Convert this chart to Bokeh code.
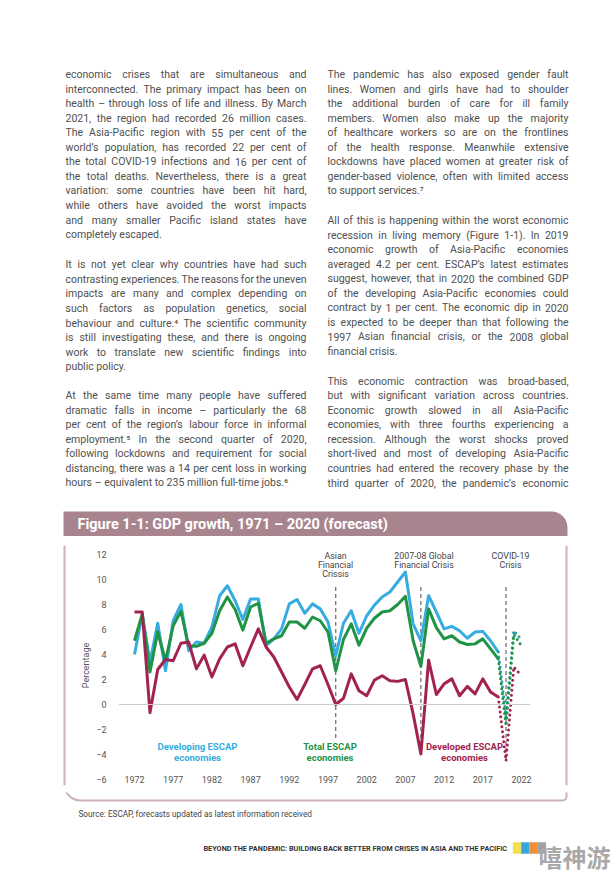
from bokeh.plotting import figure
from bokeh.layouts import column, row
from bokeh.models import Range1d, Label, BoxAnnotation, Span, FixedTicker, ColumnDataSource
from bokeh.core.properties import value
from bokeh.embed import file_html
from bokeh.resources import INLINE

# ---------------- data ----------------
years = list(range(1972, 2020))
developing = [4.0, 7.2, 3.4, 6.5, 2.7, 6.7, 8.0, 4.3, 5.0, 4.9,
              6.2, 8.7, 9.5, 8.3, 6.8, 8.45, 8.45, 4.7, 5.25, 6.05,
              8.05, 8.4, 7.3, 8.05, 7.65, 6.6, 3.9, 6.5, 7.5, 5.7,
              7.1, 7.95, 8.6, 9.0, 9.8, 10.6, 6.45, 5.1, 8.7, 7.4,
              6.05, 6.25, 5.9, 5.3, 5.8, 5.85, 5.1, 4.2]
total = [5.1, 7.25, 2.6, 5.8, 3.5, 6.3, 7.45, 4.7, 4.65, 4.9,
         5.7, 7.5, 8.6, 7.6, 5.95, 7.8, 8.1, 4.9, 5.25, 5.5,
         6.6, 6.6, 6.1, 7.0, 6.7, 5.8, 2.7, 5.2, 6.45, 4.75,
         6.1, 6.9, 7.4, 7.5, 8.0, 8.65, 5.1, 3.05, 7.65, 6.15,
         5.25, 5.5, 5.0, 4.8, 4.85, 5.25, 4.45, 3.65]
developed = [7.4, 7.4, -0.65, 2.8, 3.6, 3.5, 4.9, 5.0, 2.85, 3.95,
             2.2, 3.65, 4.6, 4.85, 3.1, 4.6, 6.05, 4.6, 3.8, 2.6,
             1.4, 0.4, 1.6, 2.85, 3.1, 1.6, 0.0, 0.5, 2.45, 1.1,
             0.7, 1.95, 2.3, 1.9, 1.85, 2.0, -0.75, -3.95, 3.55, 0.8,
             1.65, 2.05, 0.7, 1.45, 0.85, 2.05, 1.0, 0.6]

fc_years = [2019, 2020, 2021, 2022]
developing_fc = [4.2, -1.0, 5.9, 5.2]
total_fc = [3.65, -1.7, 5.6, 4.7]
developed_fc = [0.6, -4.5, 3.0, 2.3]

crisis_years = [1998, 2009, 2020]
crisis_top = [9.4, 9.4, 9.4]
crisis_bottom = [-2.9, -4.0, -4.6]
crisis_labels = [["Asian", "Financial", "Crissis"],
                 ["2007-08 Global", "Financial Crisis"],
                 ["COVID-19", "Crisis"]]

x_ticks = [1972, 1977, 1982, 1987, 1992, 1997, 2002, 2007, 2012, 2017, 2022]
y_ticks = [-6, -4, -2, 0, 2, 4, 6, 8, 10, 12]

series_names = [["Developing ESCAP", "economies"],
                ["Total ESCAP", "economies"],
                ["Developed ESCAP", "economies"]]

title_text = "Figure 1-1: GDP growth, 1971 \u2013 2020 (forecast)"
source_text = "Source: ESCAP, forecasts updated as latest information received"
footer_text = "BEYOND THE PANDEMIC: BUILDING BACK BETTER FROM CRISES IN ASIA AND THE PACIFIC"
watermark = "嘻神游"

left_paragraphs = [
    ["economic crises that are simultaneous and",
     "interconnected. The primary impact has been on",
     "health \u2013 through loss of life and illness. By March",
     "2021, the region had recorded 26 million cases.",
     "The Asia-Pacific region with 55 per cent of the",
     "world\u2019s population, has recorded 22 per cent of",
     "the total COVID-19 infections and 16 per cent of",
     "the total deaths. Nevertheless, there is a great",
     "variation: some countries have been hit hard,",
     "while others have avoided the worst impacts",
     "and many smaller Pacific island states have",
     "completely escaped."],
    ["It is not yet clear why countries have had such",
     "contrasting experiences. The reasons for the uneven",
     "impacts are many and complex depending on",
     "such factors as population genetics, social",
     "behaviour and culture.\u2074 The scientific community",
     "is still investigating these, and there is ongoing",
     "work to translate new scientific findings into",
     "public policy."],
    ["At the same time many people have suffered",
     "dramatic falls in income \u2013 particularly the 68",
     "per cent of the region\u2019s labour force in informal",
     "employment.\u2075 In the second quarter of 2020,",
     "following lockdowns and requirement for social",
     "distancing, there was a 14 per cent loss in working",
     "hours \u2013 equivalent to 235 million full-time jobs.\u2076"],
]
right_paragraphs = [
    ["The pandemic has also exposed gender fault",
     "lines. Women and girls have had to shoulder",
     "the additional burden of care for ill family",
     "members. Women also make up the majority",
     "of healthcare workers so are on the frontlines",
     "of the health response. Meanwhile extensive",
     "lockdowns have placed women at greater risk of",
     "gender-based violence, often with limited access",
     "to support services.\u2077"],
    ["All of this is happening within the worst economic",
     "recession in living memory (Figure 1-1). In 2019",
     "economic growth of Asia-Pacific economies",
     "averaged 4.2 per cent. ESCAP\u2019s latest estimates",
     "suggest, however, that in 2020 the combined GDP",
     "of the developing Asia-Pacific economies could",
     "contract by 1 per cent. The economic dip in 2020",
     "is expected to be deeper than that following the",
     "1997 Asian financial crisis, or the 2008 global",
     "financial crisis."],
    ["This economic contraction was broad-based,",
     "but with significant variation across countries.",
     "Economic growth slowed in all Asia-Pacific",
     "economies, with three fourths experiencing a",
     "recession. Although the worst shocks proved",
     "short-lived and most of developing Asia-Pacific",
     "countries had entered the recovery phase by the",
     "third quarter of 2020, the pandemic\u2019s economic"],
]

# ---------------- geometry (page pixels) ----------------
PW = 614
TOP_H = 536
MID_Y0, MID_H = 536, 256
BOT_Y0 = MID_Y0 + MID_H
BOT_H = 873 - BOT_Y0
LEFT_W, RIGHT_X0 = 70, 545
BOX_L, BOX_R, BOX_T, BOX_B = 64, 566, 511, 800

BORDER = "#cdb0b8"
BAR = "#a8858e"
BLUE = "#36ace0"
GREEN = "#1f9444"
RED = "#a3234f"
TEAL = "#27a1a6"
GREY_TXT = "#555555"


def panel(x0, y0, w, h):
    f = figure(width=w, height=h, output_backend="svg", toolbar_location=None, title=None,
               x_range=Range1d(x0, x0 + w), y_range=Range1d(y0 + h, y0),
               min_border=0, x_axis_location=None, y_axis_location=None)
    f.outline_line_color = None
    f.grid.visible = False
    f.background_fill_color = "white"
    f.border_fill_color = "white"
    return f


def rbox(**kw):
    radius = kw.pop("radius", None)
    try:
        return BoxAnnotation(border_radius=radius, **kw)
    except Exception:
        return BoxAnnotation(**kw)


# approximate Roboto advance widths (em) used to justify the body text
ADV = {' ': 0.248, 'a': 0.544, 'b': 0.561, 'c': 0.523, 'd': 0.564, 'e': 0.530, 'f': 0.347,
       'g': 0.561, 'h': 0.551, 'i': 0.243, 'j': 0.239, 'k': 0.507, 'l': 0.243, 'm': 0.876,
       'n': 0.552, 'o': 0.570, 'p': 0.561, 'q': 0.568, 'r': 0.338, 's': 0.516, 't': 0.327,
       'u': 0.551, 'v': 0.484, 'w': 0.751, 'x': 0.496, 'y': 0.473, 'z': 0.496,
       '.': 0.257, ',': 0.192, ':': 0.236, '-': 0.270, '\u2013': 0.6, '\u2019': 0.195,
       '(': 0.334, ')': 0.334, '\u2074': 0.36, '\u2075': 0.36, '\u2076': 0.36, '\u2077': 0.36,
       'A': 0.652, 'B': 0.623, 'C': 0.651, 'D': 0.656, 'E': 0.568, 'F': 0.553, 'G': 0.681,
       'H': 0.713, 'I': 0.272, 'M': 0.873, 'N': 0.713, 'O': 0.688, 'P': 0.631, 'S': 0.594,
       'T': 0.597, 'V': 0.636, 'W': 0.887}
for d in "0123456789":
    ADV[d] = 0.562


def text_w(s, fs):
    return sum(ADV.get(ch, 0.55) for ch in s) * fs


# ---------------- top: body text + figure title bar ----------------
top = panel(0, 0, PW, TOP_H)
LINE = 14.55
FS = 10.5
COL_W = 241
lx, ly, lt, rx, ry, rt = [], [], [], [], [], []
columns_spec = [(65, [74, 264.3, 395], left_paragraphs, [False, False, False]),
                (327, [74, 220, 380.7], right_paragraphs, [False, False, True])]
for x0, starts, paras, continues in columns_spec:
    for y0, para, cont in zip(starts, paras, continues):
        for i, line in enumerate(para):
            y = y0 + LINE * i
            words = line.split(" ")
            justify = (i < len(para) - 1) or cont
            if not justify or len(words) < 2:
                lx.append(x0); ly.append(y); lt.append(line)
                continue
            ws = [text_w(w, FS) for w in words]
            gap = max((COL_W - sum(ws)) / (len(words) - 1), 2.0)
            x = x0
            for w, wd in zip(words[:-1], ws[:-1]):
                lx.append(x); ly.append(y); lt.append(w)
                x += wd + gap
            rx.append(x0 + COL_W); ry.append(y); rt.append(words[-1])

body_style = dict(text_font=value("Roboto"), text_font_size=value("10.5px"),
                  text_color="#505050", text_baseline="middle")
top.text(x="x", y="y", text="t", source=ColumnDataSource(dict(x=lx, y=ly, t=lt)),
         text_align="left", **body_style)
top.text(x="x", y="y", text="t", source=ColumnDataSource(dict(x=rx, y=ry, t=rt)),
         text_align="right", **body_style)

top.add_layout(rbox(left=BOX_L - 1, right=BOX_R + 1, top=BOX_T, bottom=TOP_H + 2,
                    fill_color=BAR, fill_alpha=1, line_color=None, radius=(0, 16, 0, 0)))
top.add_layout(Label(x=77, y=523.5, text=title_text, text_color="white",
                     text_font="Roboto", text_font_style="bold", text_font_size="14.5px",
                     text_baseline="middle", text_align="left"))

# ---------------- middle: left border | chart | right border ----------------
left = panel(0, MID_Y0, LEFT_W, MID_H)
left.add_layout(Span(location=BOX_L, dimension="height", line_color=BORDER, line_width=2))
right = panel(RIGHT_X0, MID_Y0, PW - RIGHT_X0, MID_H)
right.add_layout(Span(location=BOX_R, dimension="height", line_color=BORDER, line_width=2))

# chart scales: 1972 at x=134 px, 7.74 px/yr; 0 % at y=704 px, 12.5 px per point
X1972, XSTEP = 134.0, 7.74
Y0, YSTEP = 704.0, 12.5


def fx(px):
    return 1972 + (px - X1972) / XSTEP


def fy(py):
    return (Y0 - py) / YSTEP


FL, FR, FT, FB = 118, 530, 545, 785
CW = RIGHT_X0 - LEFT_W
p = figure(width=CW, height=MID_H, output_backend="svg", toolbar_location=None, title=None,
           x_range=Range1d(fx(FL), fx(FR)), y_range=Range1d(fy(FB), fy(FT)),
           min_border_left=FL - LEFT_W, min_border_right=RIGHT_X0 - FR,
           min_border_top=FT - MID_Y0, min_border_bottom=BOT_Y0 - FB)
p.outline_line_color = None
p.grid.visible = False
p.background_fill_color = "white"
p.border_fill_color = "white"

for ax in (p.xaxis[0], p.yaxis[0]):
    ax.axis_line_color = None
    ax.major_tick_line_color = None
    ax.minor_tick_line_color = None
    ax.major_tick_in = 0
    ax.major_tick_out = 0
    ax.minor_tick_in = 0
    ax.minor_tick_out = 0
    ax.major_label_text_font = "Roboto"
    ax.major_label_text_font_size = "9px"
    ax.major_label_text_color = GREY_TXT
p.xaxis.ticker = FixedTicker(ticks=x_ticks)
p.yaxis.ticker = FixedTicker(ticks=y_ticks)
p.yaxis.major_label_standoff = 12
p.xaxis.major_label_standoff = -10
p.yaxis.axis_label = "Percentage"
p.yaxis.axis_label_text_font = "Roboto"
p.yaxis.axis_label_text_font_style = "normal"
p.yaxis.axis_label_text_font_size = "9px"
p.yaxis.axis_label_text_color = GREY_TXT
p.yaxis.axis_label_standoff = 2

p.add_layout(Span(location=0, dimension="width", line_color="#cccccc", line_width=1))

p.segment(x0=crisis_years, y0=crisis_top, x1=crisis_years, y1=crisis_bottom,
          line_color="#666666", line_width=1.2, line_dash="4 3")
crisis_label_px = [335, 423.5, 510]
for cx, lines in zip(crisis_label_px, crisis_labels):
    for i, t in enumerate(lines):
        p.add_layout(Label(x=fx(cx), y=fy(555.3 + 9 * i), text=t, text_align="center",
                           text_baseline="middle", text_font="Roboto", text_font_size="8.8px",
                           text_color="#444444"))

p.line(years, developing, line_color=BLUE, line_width=3, line_join="round")
p.line(years, total, line_color=GREEN, line_width=3, line_join="round")
p.line(years, developed, line_color=RED, line_width=3, line_join="round")
p.line(fc_years, developing_fc, line_color=TEAL, line_width=3, line_dash="0 5", line_cap="round")
p.line(fc_years, total_fc, line_color=GREEN, line_width=3, line_dash="0 5", line_cap="round")
p.line(fc_years, developed_fc, line_color=RED, line_width=3, line_dash="0 5", line_cap="round")

series_px = [197, 329.5, 464]
for cx, lines, col in zip(series_px, series_names, [BLUE, GREEN, RED]):
    for i, t in enumerate(lines):
        p.add_layout(Label(x=fx(cx), y=fy(745.5 + 11.3 * i), text=t, text_align="center",
                           text_baseline="middle", text_font="Roboto", text_font_style="bold",
                           text_font_size="9.5px", text_color=col))

# ---------------- bottom: box bottom, source, footer ----------------
bot = panel(0, BOT_Y0, PW, BOT_H)
bot.add_layout(rbox(left=BOX_L, right=BOX_R, top=BOT_Y0 - 40, bottom=BOX_B,
                    fill_alpha=0, line_color=BORDER, line_width=2, line_alpha=1,
                    radius=(0, 0, 4, 16)))
bot.add_layout(Label(x=78, y=813.3, text=source_text, text_font="Roboto",
                     text_font_size="8.2px", text_color="#444444", text_baseline="middle"))
bot.add_layout(Label(x=507, y=847.5, text=footer_text, text_font="Roboto",
                     text_font_style="bold", text_font_size="7.3px", text_color="#333333",
                     text_baseline="middle", text_align="right"))
for (l, r), col in zip([(512.3, 520.7), (520.7, 529), (529, 537.3), (537.3, 545.6)],
                       ["#f2df4f", "#37a8df", "#ef8e36", "#a0a0a0"]):
    bot.add_layout(BoxAnnotation(left=l, right=r, top=841.7, bottom=853.3,
                                 fill_color=col, fill_alpha=1, line_color=None))
bot.add_layout(Label(x=538, y=856, text=watermark, text_font="Noto Sans CJK SC",
                     text_font_style="bold", text_font_size="24px", text_color="#a8a8a8",
                     text_baseline="middle", text_align="left"))

layout = column(top, row(left, p, right), bot)
open("out.html", "w").write(file_html(layout, INLINE))
